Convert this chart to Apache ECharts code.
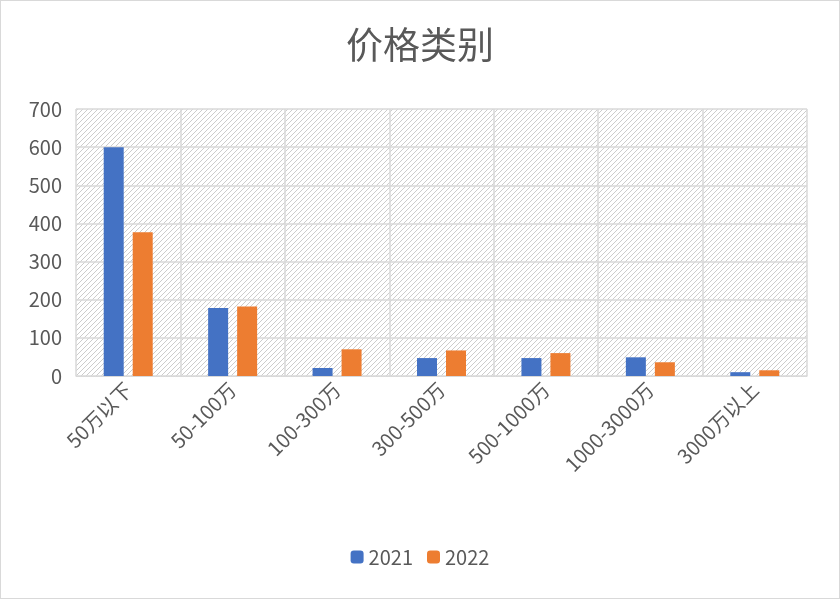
<!DOCTYPE html><html><head><meta charset="utf-8">
<script src="https://cdn.jsdelivr.net/npm/echarts@6/dist/echarts.min.js"></script>
<style>html,body{margin:0;padding:0;background:#fff}#c{width:840px;height:599px;box-sizing:border-box;border:1px solid #d9d9d9}</style>
</head><body><div id="c"></div><script>
const categories=['50万以下','50-100万','100-300万','300-500万','500-1000万','1000-3000万','3000万以上'];
const s2021=[600,178,21,47,47,49,10];
const s2022=[377,182,70,67,60,36,15];
const cv=document.createElement('canvas');cv.width=5;cv.height=5;
const g=cv.getContext('2d');g.fillStyle='#fff';g.fillRect(0,0,5,5);g.strokeStyle='#cccccc';g.lineWidth=1;
g.beginPath();g.moveTo(0,5);g.lineTo(5,0);g.moveTo(-1,1);g.lineTo(1,-1);g.moveTo(4,6);g.lineTo(6,4);g.stroke();
const chart=echarts.init(document.getElementById('c'));
const font='"Noto Sans CJK SC", sans-serif';
chart.setOption({
 title:{text:'价格类别',left:'center',top:20,textStyle:{fontSize:37,fontWeight:'normal',color:'#595959',fontFamily:font}},
 legend:{bottom:26,itemWidth:13,itemHeight:13,itemGap:14,textStyle:{fontSize:20,color:'#595959',fontFamily:font},data:['2021','2022']},
 grid:{left:75,right:32,top:108,bottom:222,show:true,borderWidth:0,backgroundColor:{image:cv,repeat:'repeat'}},
 xAxis:{type:'category',data:categories,axisLine:{lineStyle:{color:'#d9d9d9'}},axisTick:{show:false},
  splitLine:{show:true,lineStyle:{color:'#d9d9d9',width:1.5}},
  axisLabel:{rotate:45,fontSize:20,color:'#595959',fontFamily:font,interval:0,margin:10}},
 yAxis:{type:'value',min:0,max:700,interval:100,axisLabel:{fontSize:20,color:'#595959',fontFamily:font,margin:14},
  splitLine:{lineStyle:{color:'#d9d9d9',width:1.5}},axisLine:{show:false}},
 series:[{name:'2021',type:'bar',data:s2021,barWidth:20,barGap:'45%',itemStyle:{color:'#4472c4'}},
  {name:'2022',type:'bar',data:s2022,barWidth:20,itemStyle:{color:'#ed7d31'}}]
});
</script></body></html>
